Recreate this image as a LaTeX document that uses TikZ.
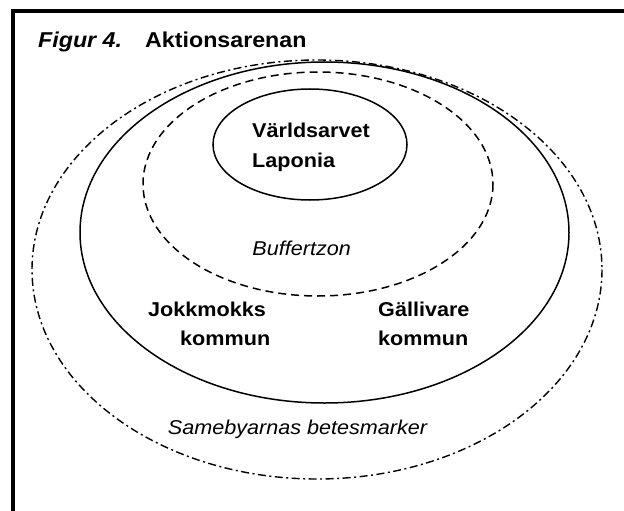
\documentclass[tikz,border=0pt]{standalone}
\usepackage{fontspec}
\setmainfont{Liberation Sans}[FakeStretch=1.08]
\begin{document}
\begin{tikzpicture}[x=1pt,y=-1pt,
  lbl/.style={inner sep=0pt,anchor=base west,font=\fontsize{20}{24}\selectfont\bfseries},
  lblit/.style={inner sep=0pt,anchor=base,font=\fontsize{20}{24}\selectfont\itshape},
  ring/.style={line width=1.5pt},
  buffer/.style={line width=1.5pt,dash pattern=on 8pt off 5pt},
  graze/.style={line width=1.4pt,dash pattern=on 8pt off 3.5pt on 2pt off 3.5pt}]
\useasboundingbox (0,0) rectangle (624,511);
% frame (top and left edges)
\draw[line width=3.5pt] (13,511) -- (13,10.8) -- (624,10.8);
% title
\node[lbl,font=\fontsize{21.5}{26}\selectfont\bfseries\itshape] (fig) at (38,47.7) {Figur 4.};
\node[lbl,font=\fontsize{21.5}{26}\selectfont\bfseries] (title) at (145,47.7) {Aktionsarenan};
% ellipses
\draw[graze] (317,269.5) ellipse [x radius=285, y radius=209.5];
\draw[ring] (324.5,232.5) ellipse [x radius=244.5, y radius=170.5];
\draw[buffer] (318,184) ellipse [x radius=175, y radius=112];
\draw[ring] (310,144.5) ellipse [x radius=97, y radius=55.5];
% labels
\node[lbl] (va1) at (252,137) {Världsarvet};
\node[lbl] (va2) at (252,167) {Laponia};
\node[lblit] (buf) at (301.7,255.7) {Buffertzon};
\node[lbl] (jk1) at (148,316) {Jokkmokks};
\node[lbl] (jk2) at (180,345) {kommun};
\node[lbl] (gk1) at (378,316) {Gällivare};
\node[lbl] (gk2) at (378,345) {kommun};
\node[lblit] (same) at (297.5,434) {Samebyarnas betesmarker};
\end{tikzpicture}
\end{document}
